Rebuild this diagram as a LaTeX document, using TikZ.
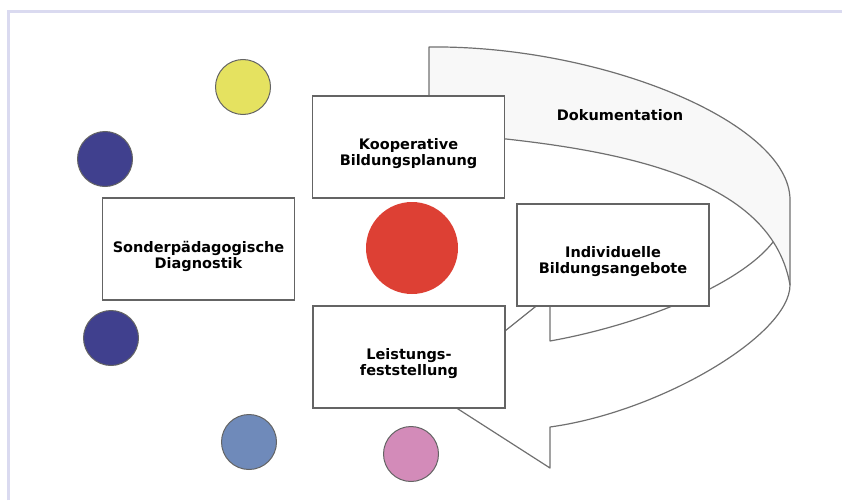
\documentclass[tikz,border=0pt]{standalone}
\usepackage{fontspec}
\setmainfont{DejaVu Sans}
\usetikzlibrary{calc}
\definecolor{frameline}{RGB}{218,218,240}
\definecolor{ribbonline}{RGB}{112,112,112}
\definecolor{ribbonfill}{RGB}{248,248,248}
\definecolor{boxline}{RGB}{100,100,100}
\definecolor{dotyellow}{RGB}{229,226,96}
\definecolor{dotnavy}{RGB}{64,64,142}
\definecolor{dotsteel}{RGB}{111,138,186}
\definecolor{dotpink}{RGB}{211,139,185}
\definecolor{dotred}{RGB}{221,64,52}

\begin{document}
\begin{tikzpicture}[x=1pt,y=-1pt,font=\bfseries\fontsize{14.5}{16}\selectfont,
    box/.style={draw=boxline,line width=1.3pt,fill=white,minimum width=192pt,minimum height=102pt},
    boxtext/.style={align=center,inner sep=0pt},
    dot/.style={circle,draw=boxline,line width=1pt,minimum size=55pt,inner sep=0pt},
    ribbon/.style={draw=ribbonline,line width=1.2pt,line join=round}]
    \useasboundingbox (0,0) rectangle (842,500);
    \draw[frameline,line width=2.5pt] (8.5,500) -- (8.5,11.5) -- (842,11.5);
    % ribbon round the boxes
    \fill[ribbonfill] (429,47) .. controls (600,45) and (790,122) .. (790,200) -- (790,285)
      .. controls (770,170) and (600,145) .. (429,132) -- cycle;
    \draw[ribbon] (429,132) .. controls (600,145) and (770,170) .. (790,285) coordinate[pos=0.86] (twist);
    \draw[ribbon] (429,132) -- (429,47) .. controls (600,45) and (790,122) .. (790,200) -- (790,285)
      .. controls (790,335) and (660,412) .. (550,427) -- (550,468) -- (430,391) -- (550,295) -- (550,341)
      .. controls (640,325) and (740,285) .. (twist);
    \node (doku) at (620,115) {Dokumentation};
    \node[box] (koop) at (408.5,147) {};
    \node[box] (diag) at (198.5,249) {};
    \node[box] (indiv) at (613,255) {};
    \node[box] (leist) at (409,357) {};
    \node[boxtext] (koopt) at ([yshift=-7pt]koop.center) {Kooperative\\Bildungsplanung};
    \node[boxtext] (diagt) at ([yshift=-7pt]diag.center) {Sonderpädagogische\\Diagnostik};
    \node[boxtext] (indivt) at ([yshift=-7pt]indiv.center) {Individuelle\\Bildungsangebote};
    \node[boxtext] (leistt) at ([yshift=-7pt]leist.center) {Leistungs-\\feststellung};
    \node[dot,fill=dotyellow] (yel) at (243,87) {};
    \node[dot,fill=dotnavy] (navya) at (105,159) {};
    \node[dot,fill=dotnavy] (navyb) at (111,338) {};
    \node[dot,fill=dotsteel] (steel) at (249,442) {};
    \node[dot,fill=dotpink] (pink) at (411,454) {};
    \node[circle,fill=dotred,minimum size=92pt,inner sep=0pt] (core) at (412,248) {};
\end{tikzpicture}
\end{document}
